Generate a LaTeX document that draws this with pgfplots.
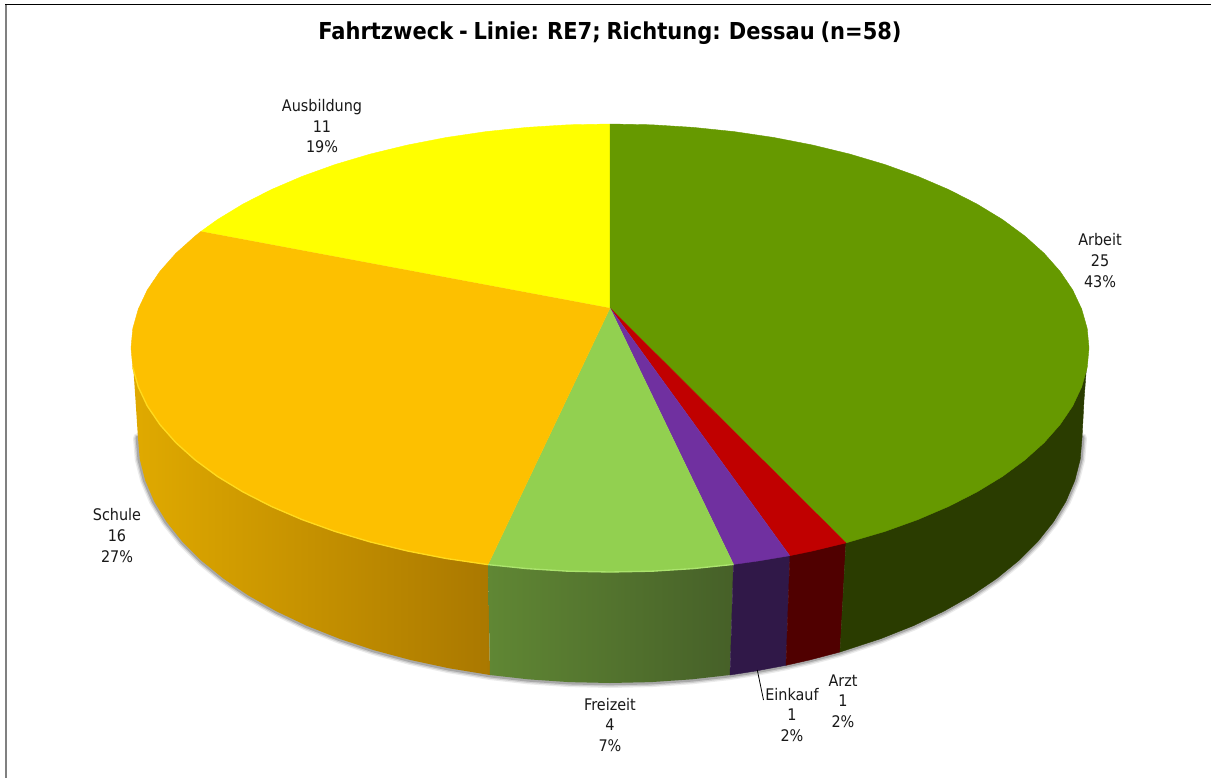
\documentclass[border=0pt]{standalone}
\usepackage{pgfplots}
\pgfplotsset{compat=1.18}
\usepackage{pgfplotstable}
\usepackage{fontspec}
\setmainfont[WordSpace=0.8]{DejaVu Sans Condensed}
\definecolor{cArbeit}{RGB}{102,153,0}
\definecolor{cArzt}{RGB}{192,0,0}
\definecolor{cEink}{RGB}{112,48,160}
\definecolor{cFrei}{RGB}{146,208,80}
\definecolor{cSchule}{RGB}{253,192,0}
\definecolor{cAusb}{RGB}{255,255,0}
\definecolor{wArbeit}{RGB}{42,60,0}
\definecolor{wArzt}{RGB}{80,0,0}
\definecolor{wEink}{RGB}{48,24,72}
\pgfplotstableread{
x y
138 438
139.8 459.4
145.2 480.5
154.1 501.4
166.5 521.8
182.2 541.5
201.2 560.5
223.3 578.5
248.4 595.5
276.2 611.2
306.6 625.7
339.3 638.7
374 650.2
410.5 660
448.6 668.2
490 675
528 679.3
568.8 682.1
610 683
651.2 682.1
692 679.3
730 675
755.8 671
786 665.3
809.5 660
840 652
880.7 638.7
913.4 625.7
943.8 611.2
971.6 595.5
996.7 578.5
1018.8 560.5
1037.8 541.5
1053.5 521.8
1065.9 501.4
1074.8 480.5
1080.2 459.4
1082 438
}\bottomrim
\begin{document}
\begin{tikzpicture}
\begin{axis}[
  scale only axis, width=908.25pt, height=583.5pt,
  xmin=0, xmax=1211, ymin=0, ymax=778, y dir=reverse,
  hide axis, clip=true,
  every axis plot/.append style={no markers, line join=round},
]
% page background fixes the picture's extent
\addplot[fill=white, draw=none] coordinates {(0,0)(1211,0)(1211,778)(0,778)};
% frame
\addplot[draw=black!50, line width=1.5pt] coordinates {(5.5,4) (5.5,778)};
\addplot[draw=black, line width=1.2pt] coordinates {(5,4.5) (1211,4.5)};
% shadow
\addplot[draw=black, opacity=.08, line width=7.5pt, line cap=round] table {\bottomrim};
\addplot[draw=black, opacity=.12, line width=5.5pt, line cap=round] table {\bottomrim};
\addplot[draw=black, opacity=.18, line width=3.5pt, line cap=round] table {\bottomrim};
% walls
\addplot[draw=none, left color={rgb,255:red,224;green,170;blue,0}, right color={rgb,255:red,170;green,120;blue,0}] coordinates {
(132,350)(133,363)(135.5,400)(138,438)(139.8,459.4)(145.2,480.5)(154.1,501.4)(166.5,521.8)(182.2,541.5)(201.2,560.5)(223.3,578.5)(248.4,595.5)(276.2,611.2)(306.6,625.7)(339.3,638.7)(374,650.2)(410.5,660)(448.6,668.2)(490,675)(488,564)(400,420)};
\addplot[draw=none, left color={rgb,255:red,96;green,135;blue,52}, right color={rgb,255:red,70;green,96;blue,40}] coordinates {
(488,564)(490,675)(528,679.3)(568.8,682.1)(610,683)(651.2,682.1)(692,679.3)(730,675)(733.5,564)(610,560)};
\addplot[fill=wEink, draw=wEink, line width=.3pt] coordinates {(733.5,564)(730,675)(755.8,671)(786,665.3)(790,555)};
\addplot[fill=wArzt, draw=wArzt, line width=.3pt] coordinates {(790,555)(786,665.3)(809.5,660)(840,652)(846,542)};
\addplot[fill=wArbeit, draw=wArbeit, line width=.3pt] coordinates {(846,542)(840,652)(880.7,638.7)(913.4,625.7)(943.8,611.2)(971.6,595.5)(996.7,578.5)(1018.8,560.5)(1037.8,541.5)(1053.5,521.8)(1065.9,501.4)(1074.8,480.5)(1080.2,459.4)(1082,438)(1084,400)(1087,360)(1088,348)(1000,400)};
% tops
\addplot[fill=cAusb, draw=cAusb, line width=.3pt] coordinates {(610,308)(201,231.4)(217.6,219.5)(243.1,204)(271.3,189.6)(302.1,176.4)(335.2,164.5)(370.5,154)(407.6,145)(446.2,137.5)(486,131.6)(526.8,127.4)(568.2,124.8)(610,124)};
\addplot[fill=cArbeit, draw=cArbeit, line width=.3pt] coordinates {(610,308)(610,124)(651.8,124.8)(693.2,127.4)(734,131.6)(773.8,137.5)(812.4,145)(849.5,154)(884.8,164.5)(917.9,176.4)(948.7,189.6)(976.9,204)(1002.4,219.5)(1024.8,236)(1044.1,253.3)(1060.1,271.4)(1072.7,290)(1081.7,309.1)(1087.2,328.5)(1089,348)(1087.2,367.5)(1081.7,386.9)(1072.7,406)(1060.1,424.6)(1044.1,442.7)(1024.8,460)(1002.4,476.5)(976.9,492)(948.7,506.4)(917.9,519.6)(884.8,531.5)(846,542.9)};
\addplot[fill=cArzt, draw=cArzt, line width=.3pt] coordinates {(610,308)(846,542.9)(812.4,551)(789.7,555.7)};
\addplot[fill=cEink, draw=cEink, line width=.3pt] coordinates {(610,308)(789.7,555.7)(758,561)(733.5,564.4)};
\addplot[fill=cFrei, draw=cFrei, line width=.3pt] coordinates {(610,308)(733.5,564.4)(693.2,568.6)(651.8,571.2)(610,572)(568.2,571.2)(526.8,568.6)(488,564.6)};
\addplot[fill=cSchule, draw=cSchule, line width=.3pt] coordinates {(610,308)(488,564.6)(446.2,558.5)(407.6,551)(370.5,542)(335.2,531.5)(302.1,519.6)(271.3,506.4)(243.1,492)(217.6,476.5)(195.2,460)(175.9,442.7)(159.9,424.6)(147.3,406)(138.3,386.9)(132.8,367.5)(131,348)(132.8,328.5)(138.3,309.1)(147.3,290)(159.9,271.4)(175.9,253.3)(195.2,236)(201,231.4)};
% rim highlights
\addplot[draw={rgb,255:red,255;green,218;blue,30}, line width=1pt] coordinates {(488,564.6)(446.2,558.5)(407.6,551)(370.5,542)(335.2,531.5)(302.1,519.6)(271.3,506.4)(243.1,492)(217.6,476.5)(195.2,460)(175.9,442.7)(159.9,424.6)(147.3,406)(138.3,386.9)(132.8,367.5)};
\addplot[draw={rgb,255:red,172;green,228;blue,110}, line width=1pt] coordinates {(733.5,564.4)(693.2,568.6)(651.8,571.2)(610,572)(568.2,571.2)(526.8,568.6)(488,564.6)};
% leader
\addplot[draw=black, line width=.6pt] coordinates {(757.3,670)(763.5,700)};
% texts
\node[font=\bfseries\fontsize{17.5}{20}\selectfont, text=black] at (axis cs:610,33) {Fahrtzweck - Linie: RE7; Richtung: Dessau (n=58)};
\tikzset{lab/.style={align=center, inner sep=0pt, text=black!90, font=\fontsize{12}{15.4}\selectfont}}
\node[lab] at (axis cs:322,126.5) {Ausbildung\\11\\19\%};
\node[lab] at (axis cs:1100,260.5) {Arbeit\\25\\43\%};
\node[lab] at (axis cs:117,535.5) {Schule\\16\\27\%};
\node[lab] at (axis cs:610,725) {Freizeit\\4\\7\%};
\node[lab] at (axis cs:792,715) {Einkauf\\1\\2\%};
\node[lab] at (axis cs:843,701) {Arzt\\1\\2\%};
\end{axis}
\end{tikzpicture}
\end{document}
